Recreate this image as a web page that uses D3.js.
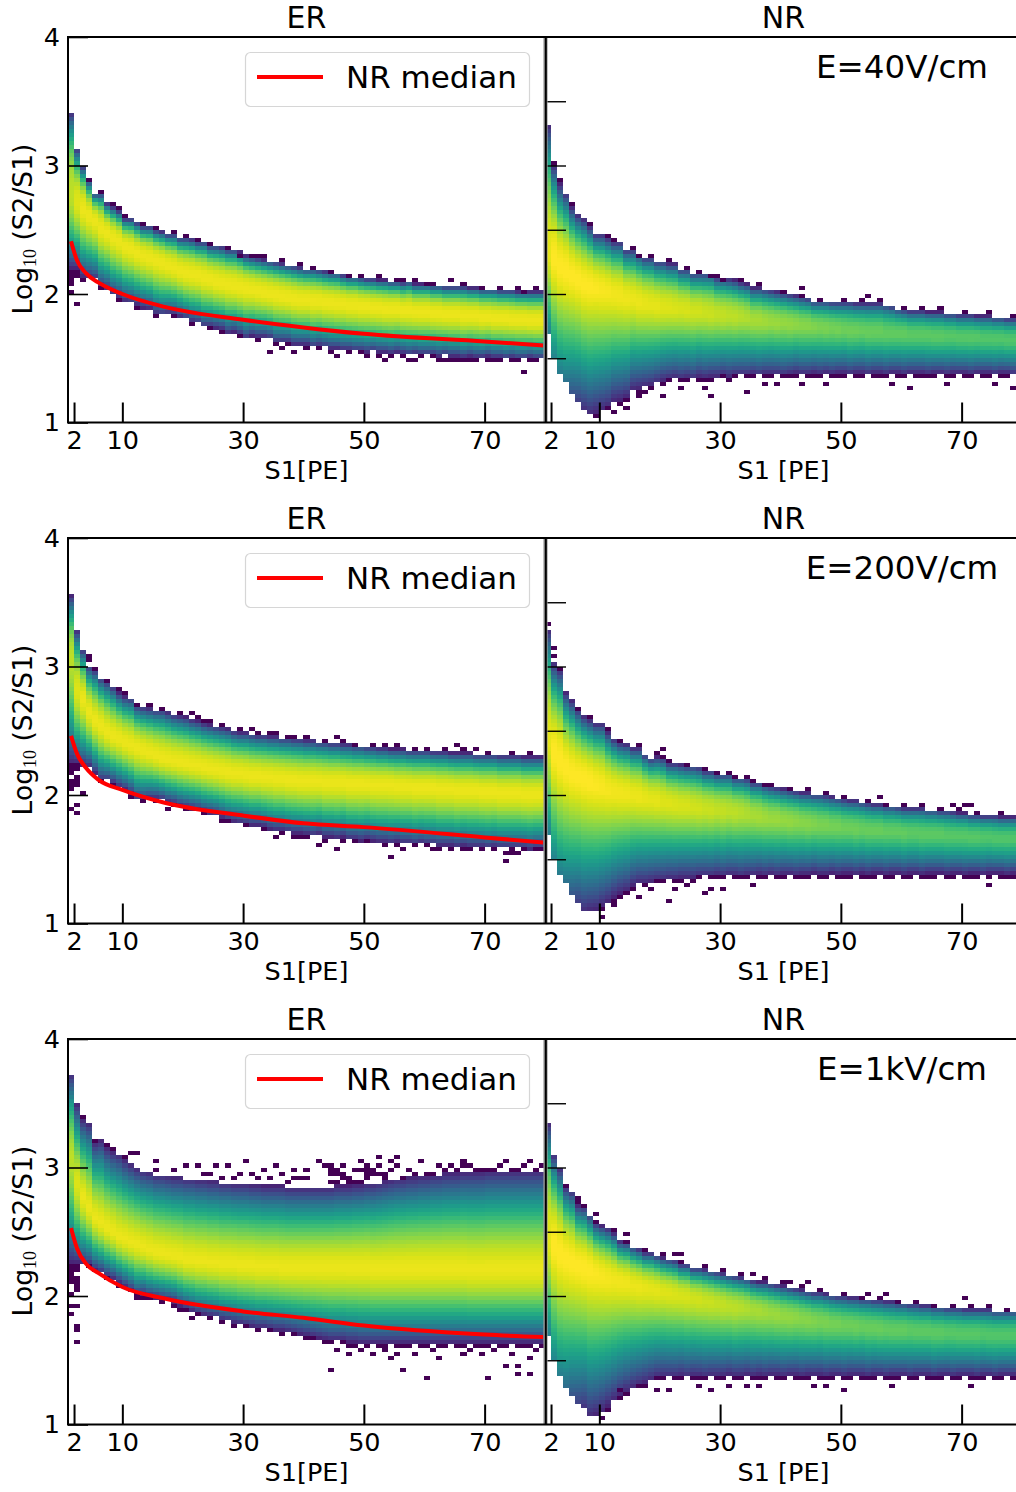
<!DOCTYPE html>
<html>
<head>
<meta charset="utf-8">
<style>
  html, body { margin: 0; padding: 0; background: #fff; overflow: hidden; }
  svg text { font-family: "DejaVu Sans", sans-serif; fill: #000; }
</style>
<script src="https://cdn.jsdelivr.net/npm/d3@7"></script>
</head>
<body>
<div id="chart"></div>
<script>
// values, one per S1 bin (bin n covers S1 n..n+1)
const top40 = [3.41,3.13,3.00,2.89,2.79,2.79,2.71,2.68,2.65,2.59,2.59,2.56,2.53,2.53,2.50,2.49,2.47,2.47,2.44,2.44,2.43,2.41,2.41,2.38,2.38,2.37,2.35,2.35,2.33,2.30,2.29,2.28,2.27,2.26,2.25,2.24,2.23,2.22,2.21,2.20,2.20,2.19,2.18,2.17,2.17,2.15,2.14,2.14,2.13,2.12,2.12,2.11,2.11,2.10,2.10,2.09,2.10,2.08,2.08,2.08,2.07,2.07,2.06,2.06,2.06,2.06,2.05,2.05,2.04,2.04,2.04,2.03,2.03,2.03,2.02,2.02,2.02,2.02,2.02];
const ridge40 = [2.75,2.70,2.65,2.60,2.56,2.50,2.47,2.43,2.40,2.36,2.34,2.31,2.29,2.27,2.25,2.23,2.21,2.19,2.17,2.15,2.14,2.13,2.11,2.10,2.08,2.07,2.06,2.05,2.04,2.03,2.02,2.01,2.00,1.99,1.98,1.97,1.96,1.95,1.94,1.94,1.93,1.93,1.92,1.92,1.91,1.91,1.90,1.90,1.89,1.89,1.88,1.88,1.87,1.87,1.87,1.86,1.86,1.85,1.85,1.85,1.84,1.84,1.83,1.83,1.83,1.82,1.82,1.82,1.81,1.81,1.80,1.80,1.80,1.79,1.79,1.79,1.78,1.78,1.78];
const low40 = [2.20,2.20,2.13,2.12,2.11,2.05,2.03,1.99,1.97,1.94,1.93,1.91,1.89,1.88,1.84,1.83,1.84,1.84,1.82,1.80,1.78,1.77,1.74,1.74,1.73,1.72,1.69,1.70,1.68,1.65,1.67,1.66,1.66,1.65,1.62,1.62,1.62,1.60,1.60,1.60,1.58,1.59,1.58,1.57,1.57,1.56,1.56,1.55,1.55,1.54,1.55,1.54,1.54,1.53,1.54,1.53,1.52,1.53,1.52,1.52,1.52,1.51,1.52,1.51,1.51,1.50,1.51,1.50,1.50,1.51,1.50,1.50,1.49,1.50,1.49,1.49,1.50,1.49,1.49];

const top200 = [3.55,3.28,3.13,3.01,2.98,2.92,2.89,2.85,2.80,2.77,2.76,2.70,2.69,2.68,2.67,2.67,2.65,2.63,2.62,2.61,2.59,2.58,2.56,2.55,2.54,2.53,2.52,2.50,2.49,2.49,2.48,2.47,2.47,2.46,2.46,2.45,2.45,2.44,2.44,2.43,2.43,2.42,2.42,2.41,2.41,2.40,2.40,2.39,2.39,2.38,2.38,2.37,2.37,2.36,2.36,2.36,2.35,2.35,2.35,2.35,2.34,2.34,2.34,2.33,2.33,2.33,2.33,2.32,2.32,2.32,2.32,2.31,2.31,2.31,2.31,2.30,2.30,2.30,2.30];
const ridge200 = [3.05,2.81,2.74,2.64,2.57,2.53,2.48,2.45,2.43,2.40,2.38,2.36,2.34,2.32,2.30,2.28,2.27,2.26,2.25,2.24,2.23,2.22,2.21,2.20,2.19,2.18,2.17,2.16,2.16,2.15,2.14,2.14,2.13,2.13,2.12,2.12,2.11,2.11,2.10,2.10,2.10,2.10,2.09,2.09,2.09,2.09,2.08,2.08,2.08,2.08,2.07,2.07,2.07,2.07,2.06,2.06,2.06,2.05,2.05,2.05,2.05,2.04,2.04,2.04,2.03,2.03,2.03,2.03,2.02,2.02,2.02,2.01,2.01,2.01,2.01,2.00,2.00,2.00,2.00];
const low200 = [2.25,2.25,2.23,2.22,2.17,2.11,2.11,2.09,2.06,2.04,2.01,1.96,1.96,1.97,1.97,1.96,1.94,1.93,1.91,1.90,1.89,1.88,1.86,1.85,1.84,1.82,1.80,1.79,1.78,1.77,1.76,1.76,1.75,1.73,1.72,1.72,1.71,1.70,1.70,1.69,1.68,1.69,1.67,1.67,1.66,1.67,1.65,1.65,1.64,1.65,1.64,1.63,1.63,1.62,1.63,1.62,1.62,1.61,1.62,1.61,1.61,1.60,1.60,1.60,1.59,1.60,1.59,1.59,1.59,1.58,1.59,1.58,1.58,1.58,1.58,1.58,1.57,1.58,1.58];

const top1k = [3.73,3.49,3.37,3.34,3.19,3.21,3.15,3.12,3.10,3.06,3.03,3.00,2.98,2.97,2.95,2.95,2.94,2.93,2.93,2.92,2.92,2.91,2.91,2.90,2.90,2.89,2.89,2.88,2.88,2.88,2.87,2.87,2.86,2.86,2.86,2.86,2.85,2.85,2.85,2.85,2.85,2.85,2.85,2.85,2.86,2.86,2.86,2.87,2.87,2.88,2.88,2.89,2.90,2.91,2.92,2.92,2.93,2.93,2.94,2.94,2.95,2.95,2.96,2.96,2.96,2.97,2.97,2.97,2.97,2.98,2.98,2.98,2.98,2.98,2.98,2.98,2.98,2.98,2.98];
const ridge1k = [3.08,2.88,2.77,2.69,2.61,2.57,2.53,2.50,2.46,2.44,2.42,2.40,2.38,2.36,2.34,2.33,2.32,2.31,2.30,2.28,2.28,2.27,2.27,2.26,2.26,2.25,2.25,2.25,2.24,2.24,2.24,2.23,2.23,2.23,2.23,2.22,2.22,2.22,2.22,2.22,2.22,2.22,2.22,2.22,2.22,2.22,2.22,2.22,2.22,2.22,2.21,2.21,2.21,2.21,2.21,2.21,2.21,2.21,2.21,2.21,2.21,2.21,2.21,2.21,2.21,2.21,2.20,2.20,2.20,2.20,2.20,2.20,2.20,2.20,2.20,2.20,2.20,2.20,2.20];
const low1k = [2.26,2.26,2.25,2.24,2.20,2.18,2.15,2.13,2.10,2.07,2.04,2.00,2.01,1.99,1.98,1.97,1.96,1.95,1.92,1.90,1.88,1.86,1.85,1.84,1.83,1.81,1.80,1.79,1.78,1.77,1.76,1.75,1.75,1.74,1.73,1.73,1.72,1.71,1.70,1.69,1.68,1.67,1.66,1.65,1.65,1.65,1.64,1.64,1.63,1.63,1.63,1.63,1.63,1.63,1.63,1.63,1.63,1.63,1.63,1.63,1.63,1.63,1.63,1.63,1.63,1.63,1.63,1.63,1.63,1.63,1.63,1.63,1.63,1.63,1.63,1.63,1.63,1.63,1.63];

const nrTop40 = [3.31,3.01,2.86,2.79,2.68,2.62,2.59,2.53,2.47,2.47,2.44,2.41,2.41,2.35,2.35,2.32,2.29,2.29,2.26,2.26,2.24,2.24,2.20,2.20,2.17,2.17,2.17,2.17,2.13,2.13,2.12,2.11,2.09,2.08,2.05,2.05,2.04,2.03,2.02,2.01,2.00,1.99,1.98,1.97,1.95,1.95,1.95,1.94,1.94,1.94,1.94,1.93,1.93,1.93,1.93,1.93,1.92,1.91,1.89,1.88,1.87,1.87,1.87,1.86,1.86,1.86,1.85,1.85,1.84,1.84,1.84,1.83,1.83,1.83,1.82,1.82,1.81,1.81,1.81];
const nrRidge40 = [2.29,2.24,2.18,2.15,2.12,2.09,2.05,2.04,2.03,2.01,2.00,1.98,1.97,1.95,1.94,1.92,1.91,1.90,1.89,1.88,1.88,1.87,1.87,1.86,1.85,1.85,1.84,1.83,1.83,1.82,1.82,1.81,1.81,1.80,1.78,1.78,1.77,1.77,1.76,1.76,1.75,1.75,1.74,1.74,1.73,1.73,1.72,1.72,1.71,1.71,1.70,1.70,1.70,1.69,1.69,1.69,1.68,1.68,1.68,1.68,1.67,1.67,1.67,1.67,1.66,1.66,1.66,1.66,1.65,1.65,1.65,1.65,1.64,1.64,1.64,1.64,1.63,1.63,1.63];
const nrLow40 = [1.69,1.51,1.39,1.30,1.22,1.16,1.09,1.05,1.07,1.09,1.11,1.16,1.17,1.19,1.25,1.26,1.27,1.28,1.30,1.32,1.33,1.34,1.33,1.34,1.33,1.35,1.34,1.35,1.35,1.36,1.35,1.36,1.36,1.36,1.37,1.36,1.37,1.37,1.37,1.36,1.37,1.38,1.37,1.37,1.38,1.37,1.38,1.37,1.38,1.38,1.37,1.38,1.38,1.37,1.38,1.38,1.37,1.38,1.38,1.37,1.38,1.38,1.38,1.37,1.38,1.38,1.37,1.38,1.38,1.38,1.37,1.38,1.38,1.38,1.37,1.38,1.38,1.37,1.38];

const nrTop200 = [3.28,3.03,2.98,2.80,2.74,2.67,2.62,2.59,2.56,2.56,2.49,2.44,2.41,2.40,2.37,2.37,2.32,2.29,2.30,2.29,2.25,2.25,2.24,2.23,2.23,2.22,2.19,2.19,2.17,2.17,2.17,2.14,2.14,2.13,2.10,2.10,2.08,2.07,2.06,2.05,2.04,2.03,2.02,2.02,2.01,2.01,2.00,1.99,1.98,1.97,1.96,1.96,1.95,1.94,1.93,1.93,1.92,1.92,1.91,1.90,1.90,1.90,1.90,1.89,1.89,1.88,1.88,1.87,1.86,1.86,1.85,1.85,1.84,1.84,1.84,1.83,1.83,1.83,1.83];
const nrRidge200 = [2.40,2.29,2.23,2.18,2.14,2.12,2.10,2.08,2.06,2.04,2.02,2.01,2.00,1.99,1.98,1.97,1.96,1.95,1.94,1.93,1.92,1.91,1.90,1.90,1.89,1.88,1.88,1.87,1.87,1.86,1.86,1.85,1.85,1.84,1.83,1.82,1.81,1.80,1.80,1.79,1.78,1.78,1.77,1.76,1.76,1.75,1.75,1.74,1.74,1.73,1.73,1.72,1.72,1.71,1.71,1.71,1.70,1.70,1.70,1.69,1.69,1.69,1.68,1.68,1.68,1.68,1.67,1.67,1.67,1.67,1.66,1.66,1.66,1.66,1.65,1.65,1.65,1.65,1.65];
const nrLow200 = [1.69,1.51,1.39,1.30,1.21,1.16,1.09,1.09,1.10,1.13,1.16,1.20,1.23,1.25,1.29,1.31,1.31,1.32,1.33,1.33,1.34,1.34,1.35,1.35,1.35,1.36,1.36,1.36,1.37,1.36,1.37,1.37,1.36,1.37,1.37,1.38,1.37,1.38,1.37,1.38,1.38,1.37,1.38,1.38,1.39,1.38,1.38,1.39,1.38,1.39,1.39,1.38,1.39,1.38,1.39,1.39,1.38,1.39,1.39,1.38,1.39,1.39,1.38,1.39,1.39,1.39,1.38,1.39,1.39,1.38,1.39,1.39,1.38,1.39,1.39,1.39,1.38,1.39,1.39];

const nrTop1k = [3.34,3.10,3.00,2.85,2.82,2.71,2.70,2.64,2.57,2.55,2.53,2.49,2.43,2.42,2.39,2.37,2.34,2.34,2.32,2.30,2.29,2.28,2.25,2.25,2.22,2.22,2.21,2.20,2.19,2.18,2.17,2.16,2.15,2.14,2.12,2.11,2.11,2.10,2.09,2.08,2.07,2.06,2.05,2.04,2.03,2.03,2.02,2.01,2.00,2.00,1.99,1.99,1.98,1.98,1.97,1.97,1.96,1.96,1.95,1.95,1.94,1.94,1.93,1.93,1.92,1.92,1.91,1.91,1.91,1.90,1.90,1.90,1.90,1.90,1.89,1.89,1.89,1.89,1.89];
const nrRidge1k = [2.41,2.36,2.30,2.27,2.24,2.22,2.20,2.18,2.16,2.14,2.12,2.11,2.10,2.09,2.07,2.06,2.05,2.04,2.03,2.02,2.01,2.00,1.99,1.98,1.97,1.96,1.95,1.94,1.93,1.92,1.91,1.90,1.90,1.89,1.88,1.87,1.86,1.85,1.84,1.83,1.82,1.82,1.81,1.80,1.79,1.79,1.78,1.77,1.77,1.76,1.76,1.75,1.75,1.74,1.74,1.73,1.73,1.72,1.72,1.72,1.72,1.71,1.71,1.71,1.70,1.70,1.70,1.70,1.69,1.69,1.69,1.69,1.69,1.68,1.68,1.68,1.68,1.68,1.68];
const nrLow1k = [1.69,1.50,1.38,1.29,1.21,1.15,1.11,1.05,1.07,1.10,1.14,1.18,1.22,1.25,1.28,1.30,1.32,1.34,1.36,1.36,1.36,1.36,1.37,1.36,1.37,1.37,1.36,1.37,1.37,1.37,1.38,1.37,1.37,1.38,1.37,1.38,1.37,1.38,1.38,1.37,1.38,1.38,1.37,1.38,1.38,1.38,1.37,1.38,1.38,1.37,1.38,1.38,1.38,1.37,1.38,1.38,1.37,1.38,1.38,1.38,1.37,1.38,1.38,1.38,1.37,1.38,1.38,1.37,1.38,1.38,1.38,1.37,1.38,1.38,1.37,1.38,1.38,1.38,1.38];

// colour level on the ridge of each bin (viridis 0..1)
const erPeak = [0.90,0.95,0.97,0.97,0.97,0.97,0.97,0.97,0.97,0.97,0.97,0.97,0.97,0.97,0.97,0.97,0.97,0.97,0.97,0.97,0.97,0.97,0.97,0.97,0.97,0.97,0.97,0.97,0.97,0.97,0.97,0.97,0.97,0.97,0.97,0.97,0.97,0.97,0.97,0.97,0.97,0.97,0.97,0.97,0.97,0.97,0.97,0.97,0.97,0.97,0.97,0.97,0.97,0.97,0.97,0.97,0.97,0.97,0.97,0.97,0.97,0.97,0.97,0.97,0.97,0.97,0.97,0.97,0.97,0.97,0.97,0.97,0.97,0.97,0.97,0.97,0.97,0.97,0.97];
const nrPeak = [0.96,1,1,1,1,1,1,1,0.995,0.99,0.985,0.98,0.98,0.975,0.97,0.97,0.965,0.96,0.96,0.95,0.95,0.945,0.94,0.94,0.93,0.93,0.92,0.92,0.91,0.91,0.90,0.90,0.89,0.88,0.87,0.87,0.86,0.85,0.85,0.84,0.84,0.83,0.82,0.82,0.81,0.80,0.80,0.79,0.79,0.78,0.78,0.78,0.77,0.77,0.77,0.77,0.76,0.76,0.76,0.76,0.75,0.75,0.75,0.75,0.75,0.75,0.74,0.74,0.74,0.74,0.74,0.74,0.73,0.73,0.73,0.73,0.73,0.73,0.73];
// NR bins at small S1 stop abruptly, before the colour has faded out
const nrFloor = [0.42,0.45,0.42,0.35,0.25,0.18,0.12];

// isolated single-count cells, [S1, log10(S2/S1)]
const stray40 = [[1,2.17],[1,2.14],[1,2.11],[1,2.08],[1,2.01],[2,2.17],[2,2.14],[2,1.91],[15,2.52],[29,2.31],[32,2.31],[34,1.56],[36,1.57],[38,1.56],[39,2.22],[45,1.52],[50,1.52],[53,1.49],[56,2.10],[57,1.47],[58,1.47],[60,2.09],[62,1.47],[63,1.47],[64,2.10],[65,1.49],[68,1.49],[72,1.47],[76,2.03],[76,1.40],[77,1.47]];
const stray200 = [[1,2.22],[1,2.19],[1,2.16],[1,2.10],[1,2.07],[1,2.04],[1,1.88],[2,2.22],[2,2.19],[2,2.13],[2,2.10],[2,2.07],[2,1.93],[2,1.85],[3,2.01],[4,3.08],[4,3.04],[17,1.88],[21,2.64],[24,2.57],[31,2.50],[35,2.48],[35,1.67],[38,2.45],[39,1.67],[42,1.61],[45,2.46],[45,1.58],[54,1.52],[56,1.58],[61,1.58],[65,2.39],[66,1.58],[68,2.37],[73,1.49],[73,1.55],[74,1.55],[75,1.55]];
const stray1k = [[1,2.23],[1,2.20],[1,2.17],[1,2.14],[1,2.11],[1,2.00],[1,1.92],[1,1.85],[2,2.23],[2,2.20],[2,2.14],[2,2.11],[2,2.08],[2,2.05],[2,1.93],[2,1.77],[2,1.74],[2,1.64],[11,3.11],[12,3.11],[12,2.00],[13,1.97],[15,3.06],[15,2.99],[18,2.99],[19,1.89],[20,3.02],[21,1.83],[22,3.00],[23,2.96],[24,2.96],[25,3.02],[26,2.93],[27,3.00],[28,2.93],[29,2.96],[30,3.05],[31,2.96],[32,2.92],[33,2.99],[34,2.92],[35,3.02],[36,2.94],[37,2.90],[38,2.99],[38,2.92],
  [39,2.92],[40,2.99],[40,2.92],[42,3.05],[43,3.02],[44,3.02],[44,2.99],[44,2.96],[44,2.89],[45,2.99],[45,2.96],[45,2.89],[46,3.02],[46,2.92],[46,2.96],[47,2.92],[47,2.89],[48,2.99],[48,2.89],[49,3.05],[49,2.99],[49,2.89],[50,3.02],[50,2.99],[50,2.96],[50,2.92],[51,2.99],[51,2.96],[52,3.08],[52,3.02],[52,2.96],[53,2.96],[53,2.92],[54,3.05],[54,2.99],[55,3.08],[55,3.02],[57,2.99],[59,3.05],[62,3.02],[64,3.02],[66,3.05],[66,3.02],[67,3.02],[72,3.02],[73,3.05],[76,3.02],[77,3.05],[79,3.02],
  [44,1.43],[47,1.55],[51,1.55],[54,1.51],[56,1.43],[60,1.37],[62,1.51],[66,1.55],[69,1.55],[70,1.37],[73,1.46],[75,1.46],[75,1.40],[77,1.51],[77,1.40],[45,1.58],[49,1.58],[53,1.58],[55,1.56],[58,1.56],[61,1.57],[67,1.57],[71,1.57],[74,1.56],[78,1.57]];
const nrStray40 = [[12,1.07],[14,1.17],[14,1.11],[16,2.31],[16,1.19],[17,1.22],[20,1.19],[23,1.26],[26,2.18],[27,1.26],[28,2.13],[28,1.19],[30,2.10],[34,1.22],[37,1.31],[39,1.31],[43,2.04],[43,1.31],[47,1.31],[54,1.98],[58,1.31],[61,1.28],[67,1.31],[75,1.31],[78,1.28]];
const nrStray200 = [[1,3.32],[2,3.14],[2,3.08],[10,1.05],[12,1.14],[13,1.21],[16,1.20],[18,1.28],[19,2.33],[20,2.37],[21,2.27],[21,1.18],[22,1.25],[24,1.31],[27,1.22],[28,1.28],[29,2.18],[30,1.28],[32,2.15],[35,2.12],[35,1.31],[37,2.09],[56,1.98],[68,1.92],[70,1.92],[71,1.92],[74,1.31]];
const nrStray1k = [[6,2.75],[7,2.69],[9,2.63],[10,1.05],[11,1.12],[13,1.27],[14,2.47],[14,1.22],[19,1.27],[21,1.27],[22,2.33],[23,2.33],[26,1.30],[28,1.27],[31,1.30],[34,1.30],[35,2.18],[36,1.30],[41,2.12],[44,2.12],[45,1.30],[47,1.30],[50,1.28],[54,2.03],[57,2.03],[58,1.30],[70,1.97],[71,1.31]];

// bins with a single-count cell right above the top edge or right below the low edge
const edgeTop40 = [4,6,8,9,10,13,15,18,20,22,24,27,31,33,36,41,44,47,49,52,55,58,61,66,69,72,75,78];
const edgeLow40 = [3,6,9,12,15,18,21,24,26,29,32,35,37,40,42,44,47,49,52,54,56,59,61,64,66,67,70,71,74,75,78];
const edgeTop200 = [5,7,9,10,12,14,16,19,22,23,26,29,32,34,37,40,43,46,48,51,53,55,58,60,63,66,70,74,77];
const edgeLow200 = [6,8,11,13,15,18,20,23,26,27,30,33,36,38,40,43,46,48,50,53,55,58,60,62,64,67,69,71,74,76,78,79];
const edgeTop1k = [3,5,7,8,10,56,58,60,61,63,65,68,69,70,71,74,75,78];
const edgeLow1k = [4,7,9,12,14,16,18,20,22,24,26,28,30,32,34,36,38,40,41,43,44,46,47,48,50,52,53,55,56,57,59,60,62,63,65,66,68,69,70,72,73,75,76,77,79];
const nrEdgeTop40 = [2,3,5,8,11,12,15,18,21,24,29,33,36,40,43,46,50,53,56,60,63,66,70,74,78];
const nrEdgeLow40 = [9,11,13,16,18,20,21,23,24,26,27,28,30,31,32,34,35,37,38,40,41,42,44,45,46,48,49,50,52,53,55,56,57,59,60,62,63,64,65,67,68,70,71,73,74,76,77,79];
const nrEdgeTop200 = [3,6,8,11,13,16,20,24,27,31,34,38,41,44,47,50,54,57,60,63,66,69,72,76,79];
const nrEdgeLow200 = [10,12,14,15,17,19,20,22,23,25,26,28,29,30,32,33,34,36,37,39,40,42,43,44,46,47,49,50,51,53,54,55,57,58,60,61,63,64,65,67,68,70,71,72,74,76,77,78];
const nrEdgeTop1k = [4,6,9,12,14,17,20,23,27,30,33,37,40,43,46,50,53,56,59,62,65,68,71,74,77];
const nrEdgeLow1k = [11,13,14,16,17,19,20,22,23,25,26,27,29,30,32,33,35,36,37,39,40,42,43,44,46,47,48,50,51,53,54,55,57,58,59,61,62,64,65,66,68,69,71,72,73,75,76,78,79];

// red NR median line, common S1 knots
const medianS1 = [1.5,2.5,4,6,10,17,30,40,50,70,79.7];
const median40 = [2.41,2.26,2.16,2.09,2.00,1.90,1.80,1.74,1.69,1.63,1.60];
const median200 = [2.46,2.32,2.21,2.12,2.04,1.94,1.84,1.78,1.75,1.67,1.63];
const median1k = [2.53,2.37,2.25,2.18,2.07,1.98,1.88,1.83,1.77,1.70,1.68];

const xTicks = [2, 10, 30, 50, 70];
const leftYTicks = [1, 2, 3, 4];
const rightYTicks = [1.5, 2, 2.5, 3, 3.5];
const fieldLabels = ["E=40V/cm", "E=200V/cm", "E=1kV/cm"];

const W = 1016, H = 1492;
const rowTops = [37, 538, 1039];
const plotH = 385.5;
const xL = 68, xM = 545, xR = 1022;
const binH = 3 / 96;

const svg = d3.select("#chart").append("svg").attr("width", W).attr("height", H).style("display", "block");

function drawHist(g, x, y, d) {
  const cells = [];
  d.top.forEach((t, i) => {
    const jMin = Math.round((d.low[i] - 1) / binH), jMax = Math.round((t - 1) / binH) - 1;
    const f0 = d.floor && d.floor[i] ? d.floor[i] : 0.1;
    for (let j = jMin; j <= jMax; j++) {
      const v = 1 + (j + 0.5) * binH;
      const up = v >= d.ridge[i];
      const u = Math.min(1, Math.abs(v - d.ridge[i]) / (up ? t - d.ridge[i] : d.ridge[i] - d.low[i]));
      const base = up ? 0.1 : f0;
      cells.push({ s: i + 1, j, level: base + (d.peak[i] - base) * (1 - Math.pow(u, up ? d.topPow : d.lowPow)) });
    }
  });
  d.edgeTop.forEach(s => cells.push({ s, j: Math.round((d.top[s - 1] - 1) / binH), level: 0 }));
  d.edgeLow.forEach(s => cells.push({ s, j: Math.round((d.low[s - 1] - 1) / binH) - 1, level: 0 }));
  d.stray.forEach(c => cells.push({ s: c[0], j: Math.floor((c[1] - 1) / binH), level: 0 }));
  g.selectAll("rect").data(cells).join("rect")
    .attr("x", c => x(c.s))
    .attr("y", c => y(1 + (c.j + 1) * binH))
    .attr("width", c => x(c.s + 1) - x(c.s))
    .attr("height", c => y(1 + c.j * binH) - y(1 + (c.j + 1) * binH))
    .attr("shape-rendering", "crispEdges")
    .attr("fill", c => d3.interpolateViridis(c.level));
}

function drawPanel(row, side, d) {
  const y0 = rowTops[row];
  const left = side === "ER";
  const x = d3.scaleLinear().domain([1, 80]).range(left ? [xL, xM] : [xM, xR]);
  const y = d3.scaleLinear().domain([1, 4]).range([y0 + plotH, y0]);
  const g = svg.append("g");

  drawHist(g.append("g"), x, y, d);

  const xAxis = g.append("g").attr("transform", `translate(0,${y0 + plotH})`)
    .call(d3.axisBottom(x).tickValues(xTicks).tickSize(-20).tickPadding(8).tickFormat(d3.format("d")));
  xAxis.select(".domain").remove();
  xAxis.selectAll("line").attr("stroke", "#000").attr("stroke-width", 2);
  xAxis.selectAll("text").attr("font-size", 25.5).attr("font-family", "DejaVu Sans").attr("dy", "0.72em").attr("fill", "#000");

  if (left) {
    const yAxis = g.append("g").attr("transform", `translate(${xL},0)`)
      .call(d3.axisLeft(y).tickValues(leftYTicks).tickSize(-20).tickPadding(8).tickFormat(d3.format("d")));
    yAxis.select(".domain").remove();
    yAxis.selectAll("line").attr("stroke", "#000").attr("stroke-width", 1.6);
    yAxis.selectAll("text").attr("font-size", 25.5).attr("font-family", "DejaVu Sans").attr("fill", "#000");
    const lab = g.append("text").attr("transform", `translate(32,${y0 + 192}) rotate(-90)`).attr("text-anchor", "middle").attr("font-size", 26.5);
    lab.append("tspan").text("Log");
    lab.append("tspan").attr("dy", 4).attr("font-size", 18).style("font-family", "'Liberation Serif', serif").text("10");
    lab.append("tspan").attr("dy", -4).text(" (S2/S1)");
  } else {
    const yAxis = g.append("g").attr("transform", `translate(${xM},0)`)
      .call(d3.axisLeft(y).tickValues(rightYTicks).tickSize(-21).tickFormat(""));
    yAxis.select(".domain").remove();
    yAxis.selectAll("line").attr("stroke", "#000").attr("stroke-width", 1.4);
    g.append("text").attr("x", 902).attr("y", y0 + 41).attr("text-anchor", "middle").attr("font-size", 32.5).text(fieldLabels[row]);
  }

  g.append("text").attr("x", (x(1) + x(80)) / 2).attr("y", y0 - 9).attr("text-anchor", "middle").attr("font-size", 30).text(side);
  g.append("text").attr("x", (x(1) + x(80)) / 2).attr("y", y0 + plotH + 56).attr("text-anchor", "middle").attr("font-size", 25.5)
    .text(left ? "S1[PE]" : "S1 [PE]");

  if (d.median) {
    const line = d3.line().x((v, i) => x(medianS1[i])).y(v => y(v)).curve(d3.curveMonotoneX);
    g.append("path").attr("d", line(d.median)).attr("fill", "none").attr("stroke", "#ff0000").attr("stroke-width", 4);
    g.append("rect").attr("x", 245.5).attr("y", y0 + 15.5).attr("width", 284).attr("height", 54).attr("rx", 5)
      .attr("fill", "#fff").attr("fill-opacity", 0.8).attr("stroke", "#d6d6d6").attr("stroke-width", 1.2);
    g.append("line").attr("x1", 257).attr("x2", 323).attr("y1", y0 + 40).attr("y2", y0 + 40).attr("stroke", "#ff0000").attr("stroke-width", 4);
    g.append("text").attr("x", 346).attr("y", y0 + 51).attr("font-size", 31).text("NR median");
  }
}

drawPanel(0, "ER", { top: top40, ridge: ridge40, low: low40, peak: erPeak, stray: stray40, edgeTop: edgeTop40, edgeLow: edgeLow40, topPow: 2.7, lowPow: 1.7, median: median40 });
drawPanel(0, "NR", { top: nrTop40, ridge: nrRidge40, low: nrLow40, peak: nrPeak, stray: nrStray40, edgeTop: nrEdgeTop40, edgeLow: nrEdgeLow40, topPow: 2.4, lowPow: 1.4, floor: nrFloor });
drawPanel(1, "ER", { top: top200, ridge: ridge200, low: low200, peak: erPeak, stray: stray200, edgeTop: edgeTop200, edgeLow: edgeLow200, topPow: 2.2, lowPow: 1.7, median: median200 });
drawPanel(1, "NR", { top: nrTop200, ridge: nrRidge200, low: nrLow200, peak: nrPeak, stray: nrStray200, edgeTop: nrEdgeTop200, edgeLow: nrEdgeLow200, topPow: 2.4, lowPow: 1.4, floor: nrFloor });
drawPanel(2, "ER", { top: top1k, ridge: ridge1k, low: low1k, peak: erPeak, stray: stray1k, edgeTop: edgeTop1k, edgeLow: edgeLow1k, topPow: 1.7, lowPow: 1.7, median: median1k });
drawPanel(2, "NR", { top: nrTop1k, ridge: nrRidge1k, low: nrLow1k, peak: nrPeak, stray: nrStray1k, edgeTop: nrEdgeTop1k, edgeLow: nrEdgeLow1k, topPow: 2.4, lowPow: 1.4, floor: nrFloor });

// spines go on last so they sit over the cells
rowTops.forEach(y0 => {
  const s = svg.append("g").attr("stroke", "#000").attr("fill", "none");
  s.append("line").attr("x1", xM + 0.5).attr("x2", xM + 0.5).attr("y1", y0).attr("y2", y0 + plotH).attr("stroke", "#999").attr("stroke-width", 4.2);
  s.append("line").attr("x1", xM + 0.8).attr("x2", xM + 0.8).attr("y1", y0).attr("y2", y0 + plotH).attr("stroke-width", 2);
  s.append("line").attr("x1", xL).attr("x2", xL).attr("y1", y0 - 1).attr("y2", y0 + plotH + 1).attr("stroke-width", 2);
  s.append("line").attr("x1", xL).attr("x2", W).attr("y1", y0).attr("y2", y0).attr("stroke-width", 2);
  s.append("line").attr("x1", xL).attr("x2", W).attr("y1", y0 + plotH).attr("y2", y0 + plotH).attr("stroke-width", 2);
});
</script>
</body>
</html>
